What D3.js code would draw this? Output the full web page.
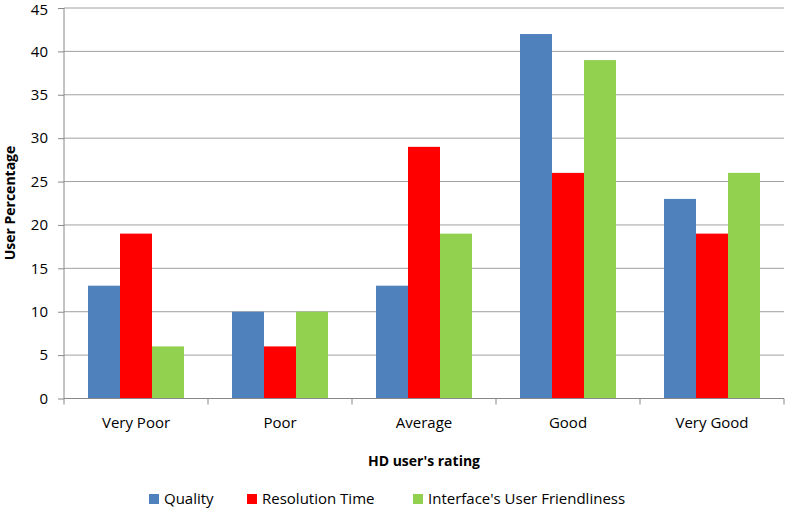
<!DOCTYPE html>
<html><head><meta charset="utf-8">
<script src="https://cdn.jsdelivr.net/npm/d3@7"></script>
<style>body{margin:0;background:#fff}svg{display:block}text{font-family:"Open Sans","Noto Sans",sans-serif;fill:#000}</style>
</head><body><svg id="c" width="787" height="512"></svg>
<script>
const categories = ["Very Poor","Poor","Average","Good","Very Good"];
const seriesNames = ["Quality","Resolution Time","Interface's User Friendliness"];
const quality = [13,10,13,42,23];
const resolutionTime = [19,6,29,26,19];
const interfaceFriendliness = [6,10,19,39,26];
const yTicks = [0,5,10,15,20,25,30,35,40,45];
const colors = ["#4F81BD","#FF0000","#92D050"];
const seriesValues = [quality,resolutionTime,interfaceFriendliness];

(function(){
const svg = d3.select("#c");
const pl=64, pr=784, pt=8, pb=398.5;
const x = d3.scaleBand().domain(categories).range([pl,pr]).paddingInner(0).paddingOuter(0);
const xs = d3.scaleBand().domain(seriesNames).range([0,x.bandwidth()]).paddingInner(0).paddingOuter(0.75);
const y = d3.scaleLinear().domain([0,45]).range([pb,pt]);

// gridlines
svg.append("g").selectAll("line").data(yTicks.filter(d=>d>0)).join("line")
  .attr("x1",pl).attr("x2",pr).attr("y1",d=>y(d)).attr("y2",d=>y(d))
  .attr("stroke","#a0a0a0").attr("stroke-width",1);

// bars
seriesNames.forEach((s,i)=>{
  svg.append("g").selectAll("rect").data(categories).join("rect")
    .attr("x",c=>x(c)+xs(s)).attr("width",xs.bandwidth())
    .attr("y",(c,j)=>y(seriesValues[i][j])).attr("height",(c,j)=>y(0)-y(seriesValues[i][j]))
    .attr("fill",colors[i]);
});

// y axis
const ya = svg.append("g").attr("transform",`translate(${pl},0)`)
  .call(d3.axisLeft(y).tickValues(yTicks).tickSize(6).tickPadding(10));
ya.select(".domain").attr("stroke","#888").attr("d",`M0,${pt}V${pb}`);
ya.selectAll(".tick line").attr("stroke","#888");
ya.selectAll("text").attr("font-size",15).attr("fill","#000").attr("font-family","Open Sans, sans-serif");
ya.selectAll(".tick").filter(d=>d===45).select("text").attr("dy","0.38em").attr("y",1);

// x axis
const xa = svg.append("g").attr("transform",`translate(0,${pb})`)
  .call(d3.axisBottom(x).tickSize(0).tickPadding(19));
xa.select(".domain").attr("stroke","#888").attr("d",`M${pl},0H${pr}`);
xa.selectAll("text").attr("font-size",15).attr("fill","#000").attr("font-family","Open Sans, sans-serif");
svg.append("g").selectAll("line").data(d3.range(categories.length+1)).join("line")
  .attr("x1",i=>pl+i*x.step()).attr("x2",i=>pl+i*x.step())
  .attr("y1",pb).attr("y2",pb+6).attr("stroke","#888");

// titles
svg.append("text").attr("x",424).attr("y",466).attr("text-anchor","middle")
  .attr("font-size",14).attr("font-weight","bold").text("HD user's rating");
svg.append("text").attr("transform",`translate(15,203) rotate(-90)`).attr("text-anchor","middle")
  .attr("font-size",14).attr("font-weight","bold").text("User Percentage");

// legend
const legX=[149,247,413];
const lg = svg.append("g");
seriesNames.forEach((s,i)=>{
  lg.append("rect").attr("x",legX[i]).attr("y",494).attr("width",10).attr("height",10).attr("fill",colors[i]);
  lg.append("text").attr("x",legX[i]+15).attr("y",504).attr("font-size",15).text(s);
});
})();
</script></body></html>
